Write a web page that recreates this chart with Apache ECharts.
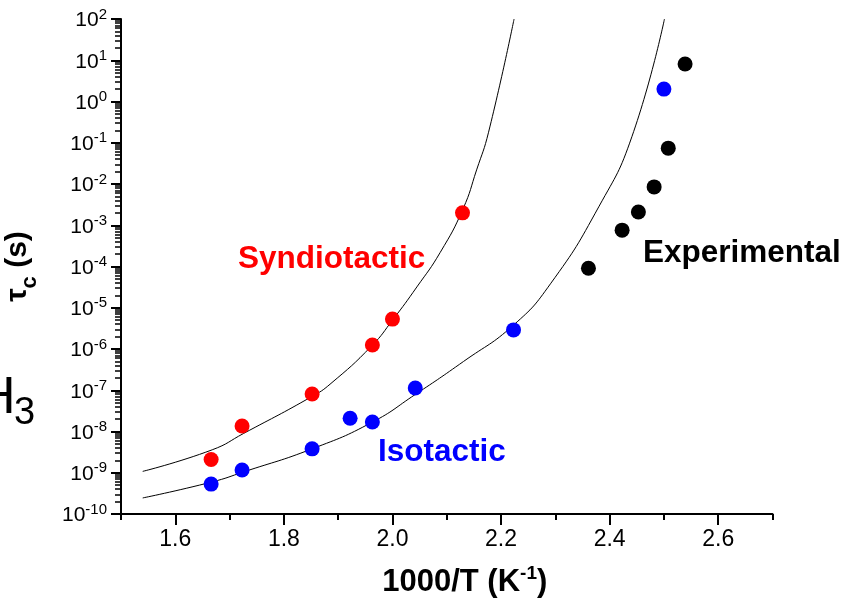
<!DOCTYPE html>
<html>
<head>
<meta charset="utf-8">
<script src="https://cdn.jsdelivr.net/npm/echarts@6/dist/echarts.min.js"></script>
<style>
    html, body { margin: 0; padding: 0; background: #fff; }
    #chart { width: 843px; height: 598px; }
</style>
</head>
<body>
<div id="chart"></div>
<script>
// measured points, 1000/T (K^-1) vs tau_c (s)
const synX = [1.666, 1.723, 1.852, 1.963, 2.000, 2.129]
const synTau = [2.1e-9, 1.36e-8, 8.1e-8, 1.25e-6, 5.3e-6, 2.0e-3]
const isoX = [1.666, 1.723, 1.852, 1.922, 1.963, 2.042, 2.223, 2.500]
const isoTau = [5.3e-10, 1.17e-9, 3.8e-9, 2.1e-8, 1.7e-8, 1.13e-7, 2.9e-6, 2.0]
const expX = [2.361, 2.423, 2.453, 2.482, 2.508, 2.539]
const expTau = [9.1e-5, 7.6e-4, 2.1e-3, 8.5e-3, 0.074, 8.1]

// fit curves
const synFitX = [1.540, 1.668, 1.726, 1.852, 1.885, 1.962, 2.001, 2.045, 2.088, 2.130, 2.155, 2.177, 2.224]
const synFitTau = [1.08e-9, 3.6e-9, 9.0e-9, 7.1e-8, 1.4e-7, 1.2e-6, 5.2e-6, 3.2e-5, 2.2e-4, 2.5e-3, 2.2e-2, 0.18, 100]
const isoFitX = [1.540, 1.668, 1.726, 1.852, 1.962, 2.042, 2.131, 2.223, 2.291, 2.380, 2.441, 2.501]
const isoFitTau = [2.45e-10, 6.0e-10, 1.05e-9, 3.8e-9, 1.66e-8, 7.9e-8, 5.0e-7, 3.8e-6, 3.8e-5, 2.8e-3, 0.14, 100]

// axes
const xMajorTicks = [1.6, 1.8, 2.0, 2.2, 2.4, 2.6]
const xMinorTicks = [1.5, 1.7, 1.9, 2.1, 2.3, 2.5, 2.7]
const yExponents = [-10, -9, -8, -7, -6, -5, -4, -3, -2, -1, 0, 1, 2]

const pairs = (xs, ys) => xs.map((x, i) => [x, ys[i]])

const yMinor = []
yExponents.slice(0, -1).forEach((e) => {
    for (let k = 2; k <= 9; k++) yMinor.push(k * Math.pow(10, e))
})

const font = 'Liberation Sans, Arial, sans-serif'
const axisCommon = {
    axisLine: { show: false },
    splitLine: { show: false },
}

const chart = echarts.init(document.getElementById('chart'))
const option = {
    animation: false,
    backgroundColor: '#fff',
    grid: { left: 121, right: 70.5, top: 19, bottom: 84, containLabel: false, outerBoundsMode: 'none' },
    xAxis: [
        {
            type: 'value',
            position: 'bottom',
            min: 1.5,
            max: 2.7,
            axisLine: { show: true, onZero: false, lineStyle: { color: '#000', width: 2 } },
            axisTick: { show: true, length: 11, lineStyle: { color: '#000', width: 2 }, customValues: xMajorTicks },
            axisLabel: {
                customValues: xMajorTicks,
                formatter: (v) => v.toFixed(1),
                color: '#000',
                fontSize: 23,
                fontFamily: font,
                margin: 14,
            },
            splitLine: { show: false },
            name: '{a|1000/T (K}{s|-1}{a|)}',
            nameLocation: 'middle',
            nameGap: 50,
            nameTextStyle: {
                padding: [0, 0, 0, 36],
                rich: {
                    a: { fontSize: 31, fontWeight: 'bold', fontFamily: font, color: '#000', lineHeight: 34, verticalAlign: 'bottom' },
                    s: { fontSize: 19, fontWeight: 'bold', fontFamily: font, color: '#000', lineHeight: 19, verticalAlign: 'top' },
                },
            },
        },
        {
            type: 'value',
            position: 'bottom',
            min: 1.5,
            max: 2.7,
            ...axisCommon,
            axisTick: { show: true, length: 6, lineStyle: { color: '#000', width: 2 }, customValues: xMinorTicks },
            axisLabel: { show: false },
        },
    ],
    yAxis: [
        {
            type: 'log',
            position: 'left',
            logBase: 10,
            min: 1e-10,
            max: 100,
            interval: 1,
            axisLine: { show: true, onZero: false, lineStyle: { color: '#000', width: 2 } },
            axisTick: { show: true, length: 10, lineStyle: { color: '#000', width: 2 } },
            axisLabel: {
                color: '#000',
                margin: 14,
                formatter: (v) => '{b|10}{s|' + Math.round(Math.log10(v)) + '}',
                rich: {
                    b: { fontSize: 21, fontFamily: font, color: '#000', lineHeight: 24, verticalAlign: 'bottom' },
                    s: { fontSize: 15, fontFamily: font, color: '#000', lineHeight: 15, verticalAlign: 'top' },
                },
            },
            splitLine: { show: false },
            name: '{t|τ}{c|c}{t| (s)}',
            nameLocation: 'middle',
            nameRotate: 90,
            nameGap: 80,
            nameTextStyle: {
                rich: {
                    t: { fontSize: 30, fontWeight: 'bold', fontFamily: font, color: '#000', lineHeight: 38, verticalAlign: 'top' },
                    c: { fontSize: 22, fontWeight: 'bold', fontFamily: font, color: '#000', lineHeight: 22, verticalAlign: 'bottom' },
                },
            },
        },
        {
            type: 'log',
            position: 'left',
            logBase: 10,
            min: 1e-10,
            max: 100,
            ...axisCommon,
            axisTick: { show: true, length: 6, lineStyle: { color: '#000', width: 1.5 }, customValues: yMinor },
            axisLabel: { show: false },
        },
    ],
    graphic: [
        { type: 'text', left: 238, top: 243, style: { text: 'Syndiotactic', fill: '#ff0000', font: 'bold 31.5px ' + font } },
        { type: 'text', left: 378, top: 436, style: { text: 'Isotactic', fill: '#0000ff', font: 'bold 31.5px ' + font } },
        { type: 'text', left: 643, top: 237, style: { text: 'Experimental', fill: '#000', font: 'bold 31.5px ' + font } },
        { type: 'text', left: -22, top: 373, style: { text: 'H', fill: '#000', font: '52px ' + font } },
        { type: 'text', left: 14, top: 395, style: { text: '3', fill: '#000', font: '38px ' + font } },
    ],
    series: [
        {
            name: 'Syndiotactic fit',
            type: 'line',
            data: pairs(synFitX, synFitTau),
            showSymbol: false,
            smooth: 0.5,
            lineStyle: { color: '#000', width: 1 },
            z: 1,
        },
        {
            name: 'Isotactic fit',
            type: 'line',
            data: pairs(isoFitX, isoFitTau),
            showSymbol: false,
            smooth: 0.5,
            lineStyle: { color: '#000', width: 1 },
            z: 1,
        },
        {
            name: 'Syndiotactic',
            type: 'scatter',
            data: pairs(synX, synTau),
            symbolSize: 15,
            itemStyle: { color: '#ff0000', opacity: 1 },
            z: 3,
        },
        {
            name: 'Isotactic',
            type: 'scatter',
            data: pairs(isoX, isoTau),
            symbolSize: 15,
            itemStyle: { color: '#0000ff', opacity: 1 },
            z: 3,
        },
        {
            name: 'Experimental',
            type: 'scatter',
            data: pairs(expX, expTau),
            symbolSize: 15,
            itemStyle: { color: '#000', opacity: 1 },
            z: 3,
        },
    ],
}
chart.setOption(option)
</script>
</body>
</html>
